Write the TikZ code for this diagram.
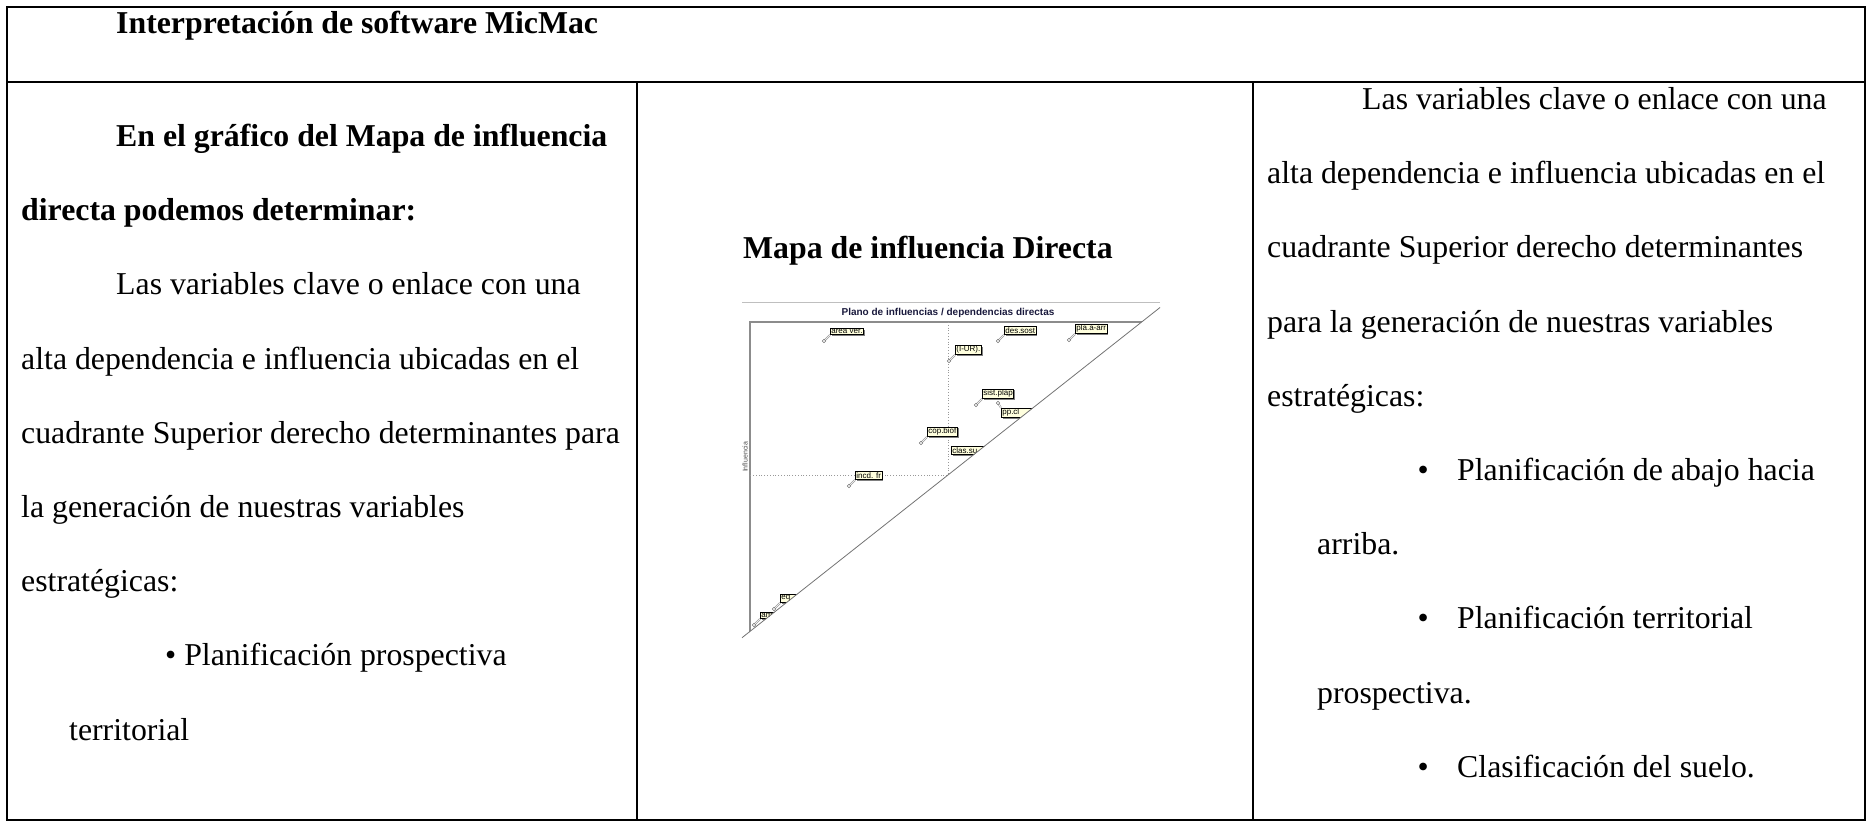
\documentclass[tikz,border=0pt]{standalone}
\usepackage{fontspec}
\setmainfont{Liberation Serif}
\newfontfamily\chartfont{Liberation Sans}
\usetikzlibrary{positioning, shadows}

\definecolor{labelfill}{RGB}{255,255,222}
\definecolor{planotext}{RGB}{25,25,60}

\tikzset{
  body/.style={anchor=base west, inner sep=0pt, font=\fontsize{31.8}{38}\selectfont},
  bodybf/.style={body, font=\fontsize{31.8}{38}\selectfont\bfseries},
  rule/.style={line width=2pt},
  varlabel/.style={draw=black, line width=0.7pt, fill=labelfill, inner sep=1pt, anchor=south west,
    font=\chartfont\fontsize{8}{8}\selectfont,
    drop shadow={shadow xshift=1.3pt, shadow yshift=-1.3pt, fill=black!50, opacity=1}},
  cutlabel/.style={varlabel, text width=34pt, align=left},
  leader/.style={black!40, line width=1.8pt},
}

\begin{document}
\begin{tikzpicture}[x=1pt, y=-1pt]
  \useasboundingbox (0, 0) rectangle (1868, 822);

  \draw[rule] (7, 7) rectangle (1865, 820);
  \draw[rule] (7, 82) -- (1865, 82);
  \draw[rule] (637, 82) -- (637, 820);
  \draw[rule] (1253, 82) -- (1253, 820);

  \node[bodybf] (title) at (116, 33) {Interpretación de software MicMac};

  \node[bodybf] (l1) at (116, 146) {En el gráfico del Mapa de influencia};
  \node[bodybf] (l2) at (21, 220) {directa podemos determinar:};
  \foreach \n/\x/\y/\t in {
      3/116/294/Las variables clave o enlace con una,
      4/21/369/alta dependencia e influencia ubicadas en el,
      5/21/443/cuadrante Superior derecho determinantes para,
      6/21/517/la generación de nuestras variables,
      7/21/591/estratégicas:,
      8/165/665/• Planificación prospectiva,
      9/69/740/territorial
    } {
      \node[body] (l\n) at (\x, \y) {\t};
    }

  \foreach \n/\x/\y/\t in {
      1/1362/109/Las variables clave o enlace con una,
      2/1267/183/alta dependencia e influencia ubicadas en el,
      3/1267/257/cuadrante Superior derecho determinantes,
      4/1267/332/para la generación de nuestras variables,
      5/1267/406/estratégicas:,
      6/1457/480/Planificación de abajo hacia,
      7/1317/554/arriba.,
      8/1457/628/Planificación territorial,
      9/1317/703/prospectiva.,
      10/1457/777/Clasificación del suelo.
    } {
      \node[body] (r\n) at (\x, \y) {\t};
    }
  \foreach \n in {6, 8, 10} {
      \node[body, left=28pt of r\n.base west, anchor=base east] (b\n) {•};
    }

  % mapa
  \node[bodybf] (maptitle) at (743, 258) {Mapa de influencia Directa};
  \draw[black!25, line width=1pt] (742, 302) -- (1160, 302);
  \node[anchor=base, inner sep=0pt, text=planotext, font=\chartfont\bfseries\fontsize{10}{10}\selectfont] (plano) at (948, 315) {Plano de influencias / dependencias directas};
  \node[rotate=90, inner sep=0pt, text=black!70, font=\chartfont\fontsize{7}{7}\selectfont] (infl) at (745, 457) {Influencia};

  \begin{scope}
    \clip (735, 290) -- (1175, 290) -- (1175, 295.7) -- (735, 643.3) -- cycle;
    \draw[black!45, line width=1.5pt] (750, 700) -- (750, 322) -- (1200, 322);
    \draw[black!40, dotted, line width=0.8pt] (948, 322) -- (948, 475) -- (750, 475);

    \foreach \n/\x/\y/\t in {
        av/830/335/area ver., ds/1004/335/des.sost, pa/1075/334/pla.a-arr,
        iu/955/355/{(I-UR).}, sp/982/399/sist.plap, cb/927/437/cop.biof, ic/855/480/incd. fr
      } {
        \node[varlabel] (\n) at (\x, \y) {\t};
      }
    \foreach \n/\x/\y/\t in {
        pc/1001/418/pp.cl, cs/951/455/clas.su, eq/780/603/eq, am/760/619/am
      } {
        \node[cutlabel] (\n) at (\x, \y) {\t};
      }

    \foreach \n in {av, ds, pa, iu, sp, cb, ic, eq, am} {
        \coordinate (m\n) at ([shift={(-6, 6)}]\n.south west);
        \draw[leader] (m\n) -- (\n.south west);
        \draw[white, line width=0.6pt] (m\n) -- (\n.south west);
        \draw[black!55, fill=white, line width=0.6pt] (m\n) circle (1.7pt);
      }
    \coordinate (mpc) at (998, 403);
    \draw[leader] (mpc) -- (pc.north west);
    \draw[white, line width=0.6pt] (mpc) -- (pc.north west);
    \draw[black!55, fill=white, line width=0.6pt] (mpc) circle (1.7pt);
  \end{scope}
  \draw[black!55, line width=0.8pt] (742, 637.7) -- (1160, 307.5);
\end{tikzpicture}
\end{document}
